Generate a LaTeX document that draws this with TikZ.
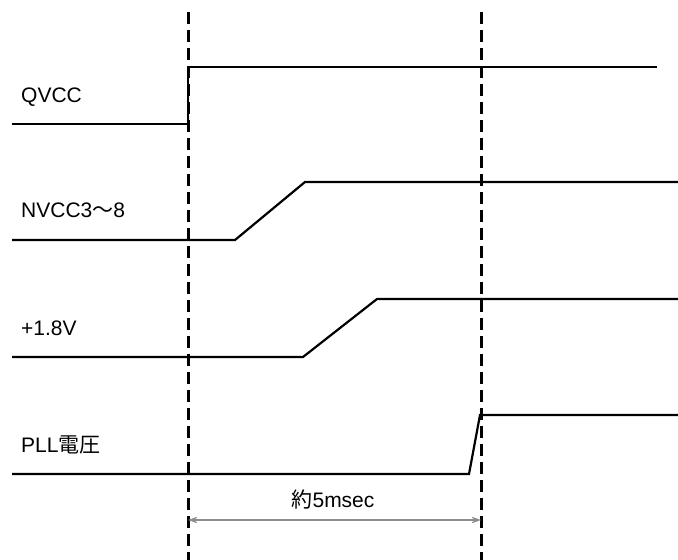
\documentclass[tikz,border=0pt]{standalone}
\usepackage{fontspec}
\setmainfont{Liberation Sans}
\newfontfamily\jpfont{Noto Sans CJK JP}
\usetikzlibrary{arrows.meta, positioning, calc}
\tikzset{
  sig/.style={draw=black, line width=2.2pt, line join=miter},
  marker/.style={draw=black, line width=3pt, dash pattern=on 12pt off 6pt},
  dim/.style={{Straight Barb[length=7pt, width=5pt]}-{Straight Barb[length=7pt, width=5pt]}, draw=black!45, line width=1.2pt},
  siglabel/.style={anchor=west, inner sep=0pt, font=\fontsize{21}{24}\selectfont},
}
\begin{document}
\begin{tikzpicture}[x=1pt, y=-1pt]
    \useasboundingbox (0,0) rectangle (678,560);
    % time markers
    \coordinate (t0top) at (188,12);
    \coordinate (t0bot) at (188,560);
    \coordinate (t1top) at (481,12);
    \coordinate (t1bot) at (481,560);
    \draw[marker] (t0top) -- (t0bot);
    \draw[marker] (t1top) -- (t1bot);
    % signal labels
    \node[siglabel] (qvcc) at (21,97) {QVCC};
    \node[siglabel] (nvcc) at (21,210) {NVCC3{\jpfont ～}8};
    \node[siglabel] (v18) at (21,328) {+1.8V};
    \node[siglabel] (pll) at (21,445) {PLL{\jpfont 電圧}};
    % waveforms
    \draw[sig] (12,124) -- (188,124) -- (188,67) -- (657,67);
    \draw[sig] (12,240) -- (235,240) -- (305,182) -- (678,182);
    \draw[sig] (12,357) -- (303,357) -- (377,299) -- (678,299);
    \draw[sig] (12,474) -- (469,474) -- (480,415) -- (678,415);
    % delay
    \coordinate (d0) at (188,520);
    \coordinate (d1) at (481,520);
    \draw[dim] (d0) -- (d1);
    \node[font=\fontsize{21}{24}\selectfont, inner sep=0pt] (delay) at (333,500) {{\jpfont 約}5msec};
\end{tikzpicture}
\end{document}
